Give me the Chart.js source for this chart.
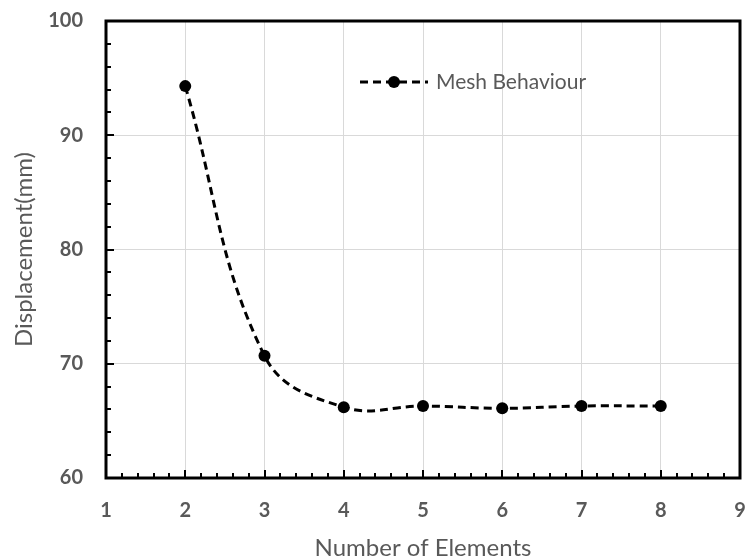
<!DOCTYPE html>
<html>
<head>
<meta charset="utf-8">
<script src="https://cdn.jsdelivr.net/npm/chart.js@4.4.1/dist/chart.umd.min.js"></script>
<style>
  html, body { margin: 0; padding: 0; background: #ffffff; }
  #wrap { width: 747px; height: 560px; position: relative; }
</style>
</head>
<body>
<div id="wrap"><canvas id="c" width="747" height="560"></canvas></div>
<script>
// ---- data ----
const elementCounts = [2, 3, 4, 5, 6, 7, 8];
const displacementMm = [94.3, 70.7, 66.2, 66.3, 66.1, 66.3, 66.3];
const seriesLabel = 'Mesh Behaviour';
const xTitle = 'Number of Elements';
const yTitle = 'Displacement(mm)';
const xRange = [1, 9];
const yRange = [60, 100];

const points = elementCounts.map((x, i) => ({ x: x, y: displacementMm[i] }));

const GRAY = '#595959';

// inward minor/major ticks + full box border
const frameTicks = {
  id: 'frameTicks',
  afterDatasetsDraw(chart) {
    const { ctx, chartArea: a, scales: { x, y } } = chart;
    ctx.save();
    ctx.strokeStyle = '#000';
    ctx.lineWidth = 2;
    for (let k = 0; k <= (xRange[1] - xRange[0]) * 5; k++) {
      const v = xRange[0] + k * 0.2;
      const px = Math.round(x.getPixelForValue(v));
      const len = (k % 5 === 0) ? 8 : 5;
      ctx.beginPath();
      ctx.moveTo(px, a.bottom);
      ctx.lineTo(px, a.bottom - len);
      ctx.stroke();
    }
    for (let k = 0; k <= (yRange[1] - yRange[0]) / 2; k++) {
      const v = yRange[0] + k * 2;
      const py = Math.round(y.getPixelForValue(v));
      const len = (k % 5 === 0) ? 8 : 5;
      ctx.beginPath();
      ctx.moveTo(a.left, py);
      ctx.lineTo(a.left + len, py);
      ctx.stroke();
    }
    ctx.lineWidth = 3;
    ctx.strokeRect(a.left, a.top, a.right - a.left, a.bottom - a.top);
    ctx.restore();
  }
};

// legend drawn inside plot area
const innerLegend = {
  id: 'innerLegend',
  afterDraw(chart) {
    const { ctx, chartArea: a } = chart;
    const ds = chart.data.datasets[0];
    const x0 = a.left + 254, x1 = a.left + 322, yy = a.top + 61;
    ctx.save();
    ctx.strokeStyle = '#000';
    ctx.lineWidth = 3;
    ctx.setLineDash([8, 5]);
    ctx.beginPath();
    ctx.moveTo(x0, yy);
    ctx.lineTo(x1, yy);
    ctx.stroke();
    ctx.setLineDash([]);
    ctx.fillStyle = '#000';
    ctx.beginPath();
    ctx.arc((x0 + x1) / 2, yy, 6, 0, Math.PI * 2);
    ctx.fill();
    ctx.fillStyle = GRAY;
    ctx.font = '21px Lato';
    ctx.textAlign = 'left';
    ctx.textBaseline = 'middle';
    ctx.fillText(ds.label, x1 + 8, yy);
    ctx.restore();
  }
};

new Chart(document.getElementById('c'), {
  type: 'scatter',
  data: {
    datasets: [{
      label: seriesLabel,
      data: points,
      showLine: true,
      tension: 0.4,
      borderColor: '#000',
      borderWidth: 3,
      borderDash: [8, 5],
      pointRadius: 6,
      pointHoverRadius: 6,
      pointBackgroundColor: '#000',
      pointBorderColor: '#000',
      pointBorderWidth: 0,
      clip: false
    }]
  },
  options: {
    responsive: false,
    animation: false,
    events: [],
    layout: { padding: { left: 0, right: 7, top: 21, bottom: 0 } },
    plugins: {
      legend: { display: false },
      tooltip: { enabled: false }
    },
    scales: {
      x: {
        type: 'linear',
        min: xRange[0],
        max: xRange[1],
        afterFit(s) { s.height = 82; s.paddingLeft = 0; s.paddingRight = 0; },
        ticks: {
          stepSize: 1,
          color: GRAY,
          font: { family: 'Lato', size: 20, weight: 'bold' },
          padding: 21
        },
        grid: { color: '#d9d9d9', lineWidth: 1, drawTicks: false },
        border: { display: false },
        title: {
          display: true,
          text: xTitle,
          color: GRAY,
          font: { family: 'Lato', size: 24, lineHeight: 1 },
          padding: { top: 0, bottom: 0 }
        }
      },
      y: {
        type: 'linear',
        min: yRange[0],
        max: yRange[1],
        afterFit(s) { s.width = 106; s.paddingTop = 0; s.paddingBottom = 0; },
        ticks: {
          stepSize: 10,
          color: GRAY,
          font: { family: 'Lato', size: 20, weight: 'bold' },
          padding: 23
        },
        grid: { color: '#d9d9d9', lineWidth: 1, drawTicks: false },
        border: { display: false },
        title: {
          display: true,
          text: yTitle,
          color: GRAY,
          font: { family: 'Lato', size: 24, lineHeight: 1 },
          padding: { top: 12, bottom: 0 }
        }
      }
    }
  },
  plugins: [frameTicks, innerLegend]
});
</script>
</body>
</html>
